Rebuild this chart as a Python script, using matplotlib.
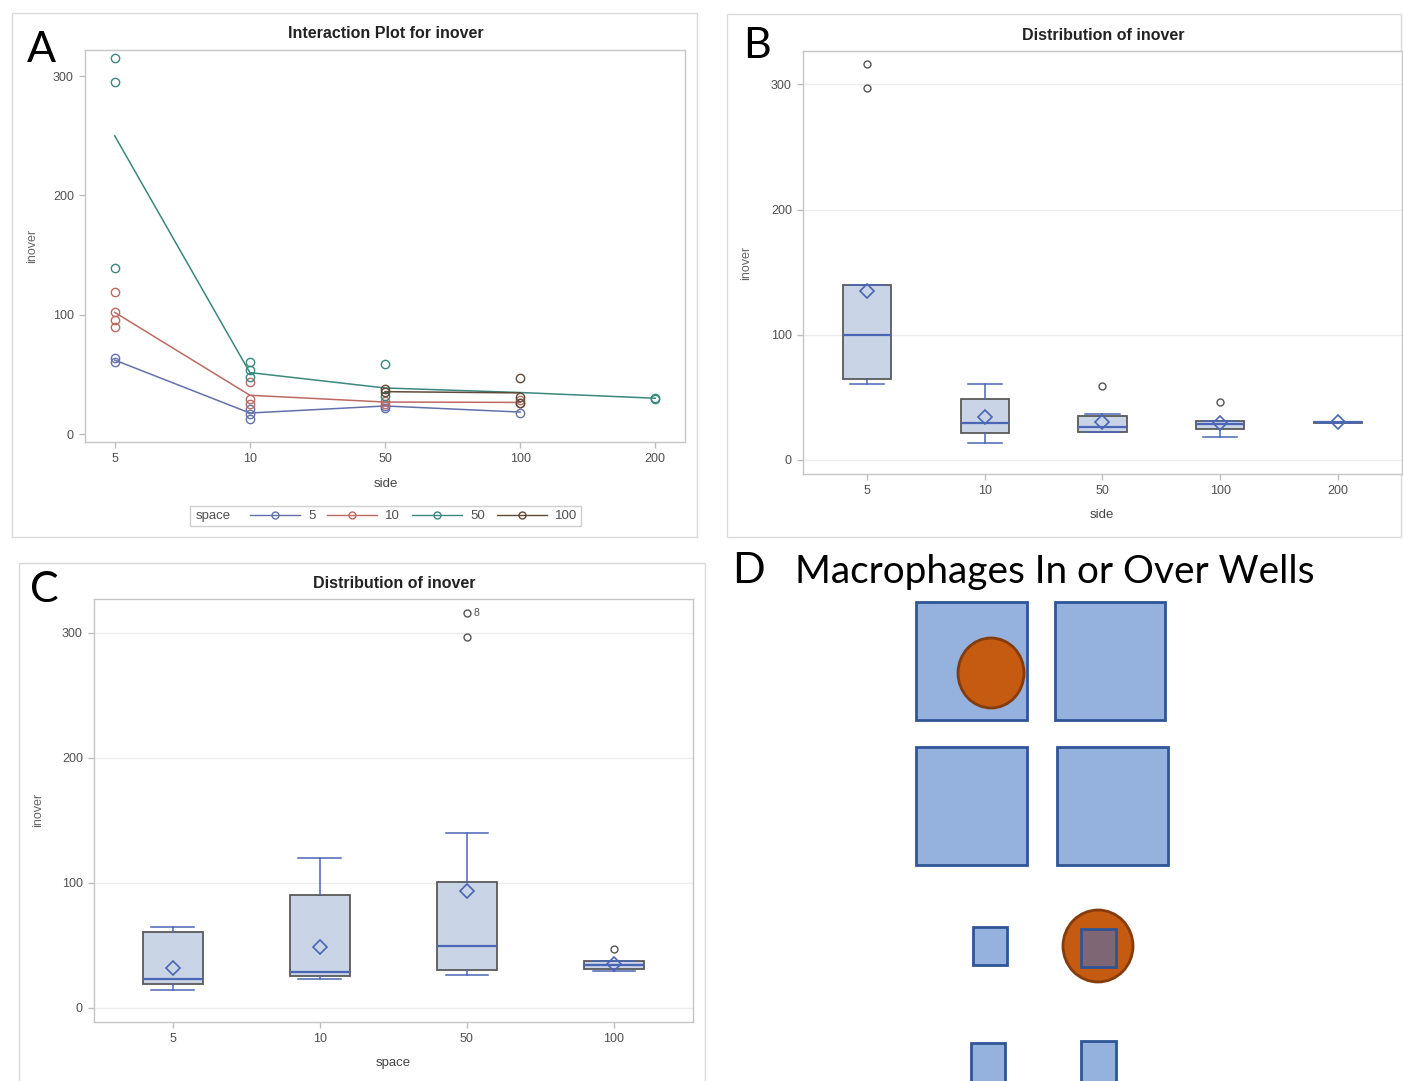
import numpy as np
import matplotlib.pyplot as plt
from matplotlib.patches import Rectangle, Ellipse
from matplotlib.lines import Line2D

plt.rcParams['font.family'] = ['Liberation Sans', 'DejaVu Sans']

W, H = 1403, 1081
nan = np.nan

# ---- panel A: interaction plot (inover by side, one line per space) ----
sides = ['5', '10', '50', '100', '200']
spaces = ['5', '10', '50', '100']
space_colors = ['#6470ac', '#bc6a62', '#3a887e', '#5f4a38']

means_s5 = [62, 17.6, 23.5, 18.4, nan]
means_s10 = [102, 32.5, 26.8, 26.5, nan]
means_s50 = [250, 51.5, 38.6, 34.8, 30]
means_s100 = [nan, nan, 35.5, 34.5, nan]

obs_s5_side = ['5', '5', '10', '10', '10', '50', '50', '100']
obs_s5_val = [60, 64, 12.6, 17, 21, 23.5, 21.5, 18]
obs_s10_side = ['5', '5', '5', '5', '10', '10', '10', '50', '50', '100', '100']
obs_s10_val = [90, 96, 102, 119, 25, 29, 43.5, 28, 25, 28.5, 26]
obs_s50_side = ['5', '5', '5', '10', '10', '10', '50', '50', '200', '200']
obs_s50_val = [139, 295, 315, 48, 54, 60, 59, 32, 30, 29.5]
obs_s100_side = ['50', '50', '100', '100', '100']
obs_s100_val = [37.5, 35, 47, 31, 26]

# ---- panel B: distribution of inover by side ----
side_q1 = [65, 21.8, 22.6, 24.5, 29.7]
side_med = [100, 29.3, 26.6, 28.4, 30]
side_q3 = [140, 48.7, 35, 31.4, 30.3]
side_lo = [60.6, 13.3, 22.6, 18.6, 29.7]
side_hi = [140, 60.7, 36.7, 31.4, 30.3]
side_mean = [135, 34, 30, 29.3, 30]
side_fliers = [[297, 316], [], [59], [46.5], []]

# ---- panel C: distribution of inover by space ----
space_q1 = [19, 25.4, 30.7, 31.5]
space_med = [23.2, 28.8, 49.6, 34.7]
space_q3 = [60.8, 90, 100.8, 37.4]
space_lo = [14.2, 23, 26.2, 29.6]
space_hi = [64.8, 120, 140.3, 37.4]
space_mean = [32, 48.8, 93.4, 35.5]
space_fliers = [[], [], [297, 316], [47.5]]

# ---- panel D: schematic (pixel geometry) ----
big_wells = [(916, 602, 1027, 720), (1055, 602, 1165, 720),
             (916, 747, 1027, 865), (1057, 747, 1168, 865)]
small_wells = [(973, 927, 1007, 965), (971, 1043, 1005, 1090), (1081, 1041, 1116, 1090)]
covered_well = (1081, 929, 1116, 967)
macrophages = [(991, 673, 66, 70), (1098, 946, 70, 72)]

fig = plt.figure(figsize=(W / 100, H / 100), dpi=100)

bg = fig.add_axes([0, 0, 1, 1], zorder=-1)
bg.set_xlim(0, W)
bg.set_ylim(H, 0)
bg.axis('off')


def px_axes(l, t, r, b):
    return fig.add_axes([l / W, 1 - b / H, (r - l) / W, (b - t) / H])


def sas_style(ax):
    for s in ax.spines.values():
        s.set_color('#c6c6c6')
        s.set_linewidth(1)
    ax.tick_params(colors='#bdbdbd', labelcolor='#505050', labelsize=9,
                   length=4, width=1, pad=4)


# panel frames
for l, t, r, b in [(12, 13, 697, 537), (727, 14, 1401, 537), (19, 563, 705, 1085)]:
    bg.add_patch(Rectangle((l, t), r - l, b - t, fill=False, ec='#dadada', lw=1))

# ---------------- A ----------------
axA = px_axes(85, 50, 685, 442)
sas_style(axA)
xpos = {s: i for i, s in enumerate(sides)}
groups = [(means_s5, obs_s5_side, obs_s5_val),
          (means_s10, obs_s10_side, obs_s10_val),
          (means_s50, obs_s50_side, obs_s50_val),
          (means_s100, obs_s100_side, obs_s100_val)]
for (m, xs, vs), c in zip(groups, space_colors):
    axA.plot(range(len(sides)), m, color=c, lw=1.1)
    axA.plot([xpos[s] for s in xs], vs, 'o', mfc='none', mec=c, ms=6, mew=1)
axA.set_xticks(range(len(sides)), sides)
axA.set_yticks([0, 100, 200, 300])
axA.set_xlim(-0.22, 4.22)
axA.set_ylim(-6.7, 322)

handles = [Line2D([], [], color=c, marker='o', mfc='none', ms=5, lw=1) for c in space_colors]
axA.legend(handles, spaces, ncol=4, frameon=False, loc='center left',
           bbox_to_anchor=(250, 516), bbox_transform=bg.transData,
           borderpad=0, borderaxespad=0, handlelength=3.8, handletextpad=0.6,
           columnspacing=0.9, fontsize=9.5, labelcolor='#505050')
bg.add_patch(Rectangle((190, 506), 391, 20, fill=False, ec='#cfcfcf', lw=1))
bg.text(196, 516, 'space', fontsize=9.5, color='#505050', va='center', ha='left')

bg.text(386, 34, 'Interaction Plot for inover', ha='center', va='center',
        fontsize=11.5, fontweight='bold', color='#222222')
bg.text(32, 246, 'inover', rotation=90, ha='center', va='center', fontsize=9, color='#666666')
bg.text(386, 484, 'side', ha='center', va='center', fontsize=9.5, color='#444444')


def box_panel(ax, q1, med, q3, lo, hi, mean, fliers):
    stats = [dict(q1=a, med=b, q3=c, whislo=d, whishi=e, mean=f, fliers=g)
             for a, b, c, d, e, f, g in zip(q1, med, q3, lo, hi, mean, fliers)]
    ax.bxp(stats, positions=range(len(stats)), widths=0.41, capwidths=0.29,
           patch_artist=True, showmeans=True,
           boxprops=dict(facecolor='#c9d4e6', edgecolor='#5a5a5a', linewidth=1.3),
           medianprops=dict(color='#4a66b4', linewidth=1.6),
           whiskerprops=dict(color='#4a66b4', linewidth=1.1),
           capprops=dict(color='#4a66b4', linewidth=1.1),
           meanprops=dict(marker='D', mfc='none', mec='#4a66b4', ms=7, mew=1.2),
           flierprops=dict(marker='o', mfc='none', mec='#555555', ms=5, mew=1))
    ax.yaxis.grid(True, color='#ececec', lw=1)
    ax.set_axisbelow(True)
    ax.set_yticks([0, 100, 200, 300])


# ---------------- B ----------------
axB = px_axes(803, 51, 1402, 474)
sas_style(axB)
box_panel(axB, side_q1, side_med, side_q3, side_lo, side_hi, side_mean, side_fliers)
axB.set_xticks(range(len(sides)), sides)
axB.set_xlim(-0.543, 4.544)
axB.set_ylim(-11.2, 326.6)
bg.text(1103, 35, 'Distribution of inover', ha='center', va='center',
        fontsize=11.5, fontweight='bold', color='#222222')
bg.text(746, 263, 'inover', rotation=90, ha='center', va='center', fontsize=9, color='#666666')
bg.text(1102, 515, 'side', ha='center', va='center', fontsize=9.5, color='#444444')

# ---------------- C ----------------
axC = px_axes(94, 599, 693, 1022)
sas_style(axC)
box_panel(axC, space_q1, space_med, space_q3, space_lo, space_hi, space_mean, space_fliers)
axC.set_xticks(range(len(spaces)), spaces)
axC.set_xlim(-0.535, 3.537)
axC.set_ylim(-11.2, 327)
axC.annotate('8', (2, space_fliers[2][1]), xytext=(5, 0), textcoords='offset points',
             va='center', ha='left', fontsize=7.5, color='#505050')
bg.text(394, 583, 'Distribution of inover', ha='center', va='center',
        fontsize=11.5, fontweight='bold', color='#222222')
bg.text(38, 810, 'inover', rotation=90, ha='center', va='center', fontsize=9, color='#666666')
bg.text(393, 1063, 'space', ha='center', va='center', fontsize=9.5, color='#444444')

# ---------------- D ----------------
well_fc, well_ec = '#95b1dd', '#2f5597'
cell_fc, cell_ec = '#c55a11', '#843c0c'
for l, t, r, b in big_wells:
    bg.add_patch(Rectangle((l, t), r - l, b - t, fc=well_fc, ec=well_ec, lw=2))
for l, t, r, b in small_wells:
    bg.add_patch(Rectangle((l, t), r - l, b - t, fc=well_fc, ec=well_ec, lw=2))
for cx, cy, w, h in macrophages:
    bg.add_patch(Ellipse((cx, cy), w, h, fc=cell_fc, ec=cell_ec, lw=2))
l, t, r, b = covered_well
bg.add_patch(Rectangle((l, t), r - l, b - t, fc='#7f6674', ec=well_ec, lw=2))

bg.text(795, 583, 'Macrophages In or Over Wells', fontsize=27.9, family='Lato',
        ha='left', va='baseline', color='black')

# panel letters
for x, y, s in [(27, 62, 'A'), (743, 58, 'B'), (30, 602, 'C'), (732, 583, 'D')]:
    bg.text(x, y, s, fontsize=31, family='Lato', ha='left', va='baseline', color='black')

fig.savefig('out.png', dpi=100)
